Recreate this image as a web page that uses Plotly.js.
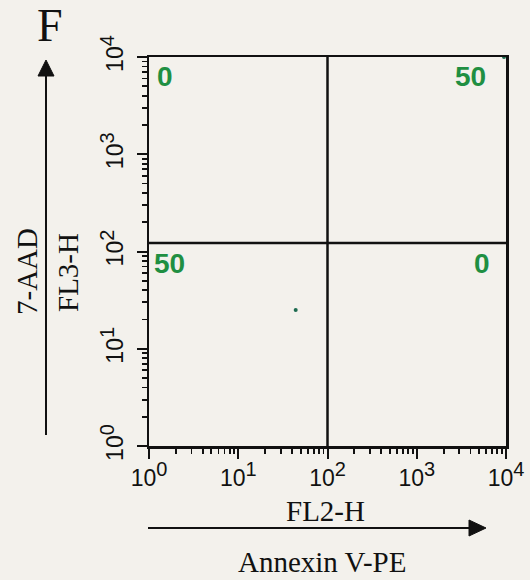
<!DOCTYPE html>
<html>
<head>
<meta charset="utf-8">
<script src="https://cdn.plot.ly/plotly-3.0.1.min.js"></script>
<style>
  html, body { margin: 0; padding: 0; background: #f3f1ec; }
  #chart { width: 530px; height: 580px; }
</style>
</head>
<body>
<div id="chart"></div>
<script>
// ---- data ----
const eventsFL2 = [44, 9500];      // FL2-H (Annexin V-PE)
const eventsFL3 = [25, 10000];     // FL3-H (7-AAD)
const gateFL2 = 100;               // vertical quadrant gate
const gateFL3 = 122;               // horizontal quadrant gate
const quadLabels = ['0', '50', '50', '0'];   // UL, UR, LL, LR (%)
const decades = [0, 1, 2, 3, 4];
const panelLetter = 'F';
const xTitle = 'FL2-H';
const yTitle = 'FL3-H';
const xMarker = 'Annexin V-PE';
const yMarker = '7-AAD';

// ---- ticks ----
const majorVals = decades.map(d => Math.pow(10, d));
const tickText = decades.map(d => '10<sup><span style="font-size:20px">' + d + '</span></sup>');
const minorVals = [];
decades.slice(0, -1).forEach(d => {
  for (let k = 2; k <= 9; k++) minorVals.push(k * Math.pow(10, d));
});

const green = '#1f8f42';
const tickFont = { family: 'Liberation Sans, Arial, sans-serif', size: 23, color: '#111' };
const serif = 'Liberation Serif, Times New Roman, serif';

const axisCommon = {
  type: 'log',
  range: [0, 4],
  tickmode: 'array',
  tickvals: majorVals,
  ticktext: tickText,
  ticks: 'outside',
  ticklen: 10,
  tickwidth: 2,
  tickcolor: '#111',
  showline: true,
  linewidth: 2.5,
  linecolor: '#111',
  mirror: true,
  showgrid: false,
  zeroline: false,
  tickfont: tickFont,
  minor: { tickvals: minorVals, ticks: 'outside', ticklen: 5, tickwidth: 1.8, tickcolor: '#111', showgrid: false }
};

const traces = [
  { x: [gateFL2, gateFL2], y: [1, 10000], mode: 'lines', line: { color: '#111', width: 2.5 }, hoverinfo: 'skip', showlegend: false },
  { x: [1, 10000], y: [gateFL3, gateFL3], mode: 'lines', line: { color: '#111', width: 2.5 }, hoverinfo: 'skip', showlegend: false },
  { x: eventsFL2, y: eventsFL3, mode: 'markers', marker: { color: '#1d6b50', size: 4 }, cliponaxis: false, showlegend: false }
];

// paper-coordinate helpers (style only)
const L = 149, R = 506, T = 57, B = 446;
const px = v => (v - L) / (R - L);
const py = v => (B - v) / (B - T);

const quadPos = [[165, 76], [470, 76], [169, 263], [482, 263]];
const annotations = quadLabels.map((t, i) => ({
  text: '<b>' + t + '</b>', xref: 'paper', yref: 'paper', x: px(quadPos[i][0]), y: py(quadPos[i][1]),
  xanchor: 'center', yanchor: 'middle', showarrow: false,
  font: { family: 'Liberation Sans, Arial, sans-serif', size: 28, color: green }
}));
annotations.push(
  { text: panelLetter, xref: 'paper', yref: 'paper', x: px(50), y: py(26), xanchor: 'center', yanchor: 'middle', showarrow: false, font: { family: serif, size: 46, color: '#111' } },
  { text: yMarker, xref: 'paper', yref: 'paper', x: px(27), y: py(272), textangle: -90, xanchor: 'center', yanchor: 'middle', showarrow: false, font: { family: serif, size: 29, color: '#111' } },
  { text: yTitle, xref: 'paper', yref: 'paper', x: px(68), y: py(273), textangle: -90, xanchor: 'center', yanchor: 'middle', showarrow: false, font: { family: serif, size: 29, color: '#111' } },
  { text: xTitle, xref: 'paper', yref: 'paper', x: px(325), y: py(511), xanchor: 'center', yanchor: 'middle', showarrow: false, font: { family: serif, size: 29, color: '#111' } },
  { text: xMarker, xref: 'paper', yref: 'paper', x: px(322), y: py(562), xanchor: 'center', yanchor: 'middle', showarrow: false, font: { family: serif, size: 29, color: '#111' } }
);

const shapes = [
  // vertical arrow
  { type: 'line', xref: 'paper', yref: 'paper', x0: px(46), x1: px(46), y0: py(435), y1: py(72), line: { color: '#111', width: 2 } },
  { type: 'path', xref: 'paper', yref: 'paper',
    path: 'M ' + px(46) + ' ' + py(60) + ' L ' + px(38) + ' ' + py(76) + ' L ' + px(54) + ' ' + py(76) + ' Z',
    fillcolor: '#111', line: { color: '#111', width: 1 } },
  // horizontal arrow
  { type: 'line', xref: 'paper', yref: 'paper', x0: px(148), x1: px(472), y0: py(528), y1: py(528), line: { color: '#111', width: 2 } },
  { type: 'path', xref: 'paper', yref: 'paper',
    path: 'M ' + px(486) + ' ' + py(528) + ' L ' + px(469) + ' ' + py(520) + ' L ' + px(469) + ' ' + py(536) + ' Z',
    fillcolor: '#111', line: { color: '#111', width: 1 } }
];

const layout = {
  width: 530, height: 580,
  margin: { l: L, r: 530 - R, t: T, b: 580 - B },
  paper_bgcolor: '#f3f1ec',
  plot_bgcolor: '#f3f1ec',
  showlegend: false,
  xaxis: Object.assign({}, axisCommon, { tickangle: 0 }),
  yaxis: Object.assign({}, axisCommon, { tickangle: -90, ticklabelstandoff: 4 }),
  annotations: annotations,
  shapes: shapes
};

Plotly.newPlot('chart', traces, layout, { staticPlot: true, displayModeBar: false });
</script>
</body>
</html>
